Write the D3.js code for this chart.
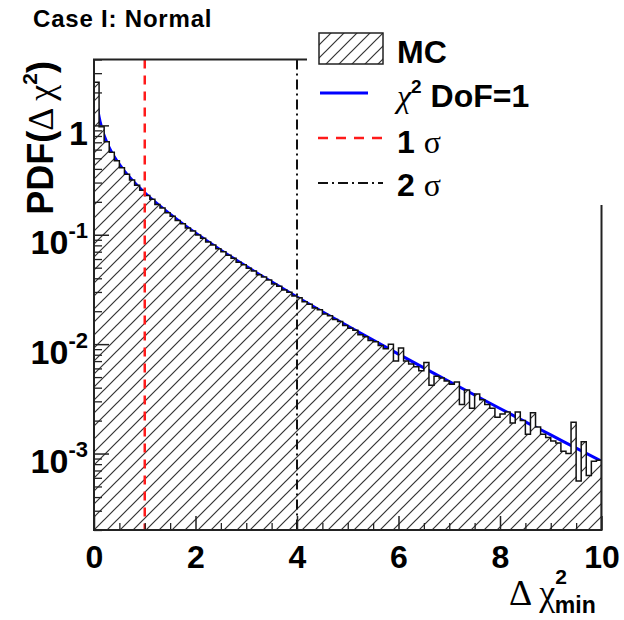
<!DOCTYPE html>
<html>
<head>
<meta charset="utf-8">
<script src="https://cdn.jsdelivr.net/npm/d3@7"></script>
<style>
  html, body { margin: 0; padding: 0; background: #fff; }
  svg { display: block; }
  text { font-family: "Liberation Sans", Arial, Helvetica, sans-serif; }
</style>
</head>
<body>
<svg id="chart" width="624" height="620"></svg>
<script>
// ---------- data ----------
const binEdges = [0, 10];           // histogram range
const binWidth = 0.1;
const mcValues = [
  2.48, 0.971, 0.708, 0.568, 0.476, 0.409, 0.358, 0.317, 0.283, 0.255,
  0.229, 0.211, 0.189, 0.176, 0.159, 0.148, 0.135, 0.126, 0.115, 0.108,
  0.0995, 0.0930, 0.0860, 0.0806, 0.0745, 0.0700, 0.0648, 0.0610, 0.0562, 0.0533,
  0.0494, 0.0467, 0.0432, 0.0410, 0.0385, 0.0355, 0.0338, 0.0313, 0.0298, 0.0276,
  0.0265, 0.0244, 0.0232, 0.0214, 0.0206, 0.0189, 0.0182, 0.0168, 0.0161, 0.0148,
  0.0140, 0.0134, 0.0122, 0.0117, 0.0108, 0.0105, 0.0097, 0.0091, 0.0100, 0.0070,
  0.0092, 0.0070, 0.0066, 0.0062, 0.0057, 0.0068, 0.0042, 0.0051, 0.0049, 0.0046,
  0.0043, 0.0045, 0.0028, 0.0038, 0.0026, 0.0035, 0.0031, 0.0028, 0.0026, 0.00215,
  0.0023, 0.0024, 0.0019, 0.0024, 0.0020, 0.0015, 0.00236, 0.00175, 0.0015, 0.0014,
  0.0013, 0.00125, 0.00105, 0.0010, 0.00193, 0.00056, 0.00128, 0.00063, 0.00085, 0.00087
];
const curveX = [0.06, 0.08, 0.1, 0.15, 0.2, 0.3, 0.4, 0.5, 0.6, 0.75, 1, 1.25, 1.5, 1.75, 2,
                2.5, 3, 3.5, 4, 4.5, 5, 5.5, 6, 6.5, 7, 7.5, 8, 8.5, 9, 9.5, 10];
const curveY = [1.58, 1.355, 1.200, 0.956, 0.807, 0.627, 0.5165, 0.439, 0.3815, 0.3166, 0.242, 0.191, 0.1539, 0.1257, 0.1038,
                0.0723, 0.0514, 0.0371, 0.0270, 0.0198, 0.01465, 0.01088, 0.00811, 0.00607, 0.00455, 0.00343, 0.00258, 0.00195, 0.00148, 0.00112, 0.00085];
const sigmaLines = [1, 4];
const xTickValues = [0, 2, 4, 6, 8, 10];
const xMinorValues = [0.5, 1, 1.5, 2.5, 3, 3.5, 4.5, 5, 5.5, 6.5, 7, 7.5, 8.5, 9, 9.5];
const yMajorValues = [1e-3, 1e-2, 1e-1, 1];
const yMajorLabels = [["10", "-3"], ["10", "-2"], ["10", "-1"], ["1", ""]];
const yMinorValues = [2e-4,3e-4,4e-4,5e-4,6e-4,7e-4,8e-4,9e-4,
                      2e-3,3e-3,4e-3,5e-3,6e-3,7e-3,8e-3,9e-3,
                      2e-2,3e-2,4e-2,5e-2,6e-2,7e-2,8e-2,9e-2,
                      0.2,0.3,0.4,0.5,0.6,0.7,0.8,0.9, 2, 3, 4];
const legendLabels = ["MC", "DoF=1", "1", "2"];

// ---------- layout ----------
const L = 94, R = 601.5, T = 59.5, B = 530;
const svg = d3.select("#chart");
const x = d3.scaleLinear().domain(binEdges).range([L, R]);
const y = d3.scaleLog().domain([2e-4, 4]).range([B, T]);

const defs = svg.append("defs");
const pat = defs.append("pattern").attr("id", "hatch").attr("patternUnits", "userSpaceOnUse")
  .attr("width", 13).attr("height", 13);
pat.append("rect").attr("width", 13).attr("height", 13).attr("fill", "#fff");
pat.append("path").attr("d", "M-3,16 L16,-3 M-3,3 L3,-3 M10,16 L16,10")
  .attr("stroke", "#333").attr("stroke-width", 1.2).attr("fill", "none");
defs.append("clipPath").attr("id", "clip").append("rect")
  .attr("x", L).attr("y", T).attr("width", R - L).attr("height", B - T);

const plot = svg.append("g").attr("clip-path", "url(#clip)");

// chi2 curve (drawn first, histogram covers it)
const line = d3.line().x((d, i) => x(curveX[i])).y(d => y(d)).curve(d3.curveMonotoneX);
plot.append("path").attr("d", line(curveY)).attr("fill", "none")
  .attr("stroke", "#0000ff").attr("stroke-width", 3);

// histogram step path
const pts = [[x(binEdges[0]), y(2e-4) + 5]];
mcValues.forEach((v, i) => {
  pts.push([x(i * binWidth), y(v)]);
  pts.push([x((i + 1) * binWidth), y(v)]);
});
pts.push([x(binEdges[1]), y(2e-4) + 5]);
plot.append("path").attr("d", d3.line()(pts) + "Z")
  .attr("fill", "url(#hatch)").attr("stroke", "#111").attr("stroke-width", 1.5);

// sigma lines
plot.append("line").attr("x1", x(sigmaLines[0])).attr("x2", x(sigmaLines[0]))
  .attr("y1", T).attr("y2", B).attr("stroke", "#ff1a1a").attr("stroke-width", 2.5)
  .attr("stroke-dasharray", "9,7");
plot.append("line").attr("x1", x(sigmaLines[1])).attr("x2", x(sigmaLines[1]))
  .attr("y1", T).attr("y2", B).attr("stroke", "#111").attr("stroke-width", 2)
  .attr("stroke-dasharray", "10,4,2,4");

// ---------- axes ----------
const gx = svg.append("g").attr("transform", `translate(0,${B})`)
  .call(d3.axisBottom(x).tickValues(xTickValues).tickSizeInner(-14).tickSizeOuter(0)
    .tickPadding(8).tickFormat(d3.format("d")));
gx.select(".domain").remove();
gx.selectAll(".tick line").attr("stroke", "#222").attr("stroke-width", 1.5);
gx.selectAll(".tick text").attr("font-size", 32).attr("font-weight", "bold")
  .attr("fill", "#000").attr("dy", "0.93em").attr("font-family", "Liberation Sans, Arial, sans-serif");
const gxm = svg.append("g").attr("transform", `translate(0,${B})`)
  .call(d3.axisBottom(x).tickValues(xMinorValues).tickSizeInner(-7).tickSizeOuter(0).tickFormat(""));
gxm.select(".domain").remove();
gxm.selectAll(".tick line").attr("stroke", "#222").attr("stroke-width", 1.3);

const gy = svg.append("g").attr("transform", `translate(${L},0)`)
  .call(d3.axisLeft(y).tickValues(yMajorValues).tickSizeInner(-15).tickSizeOuter(0)
    .tickPadding(6).tickFormat(""));
gy.select(".domain").remove();
gy.selectAll(".tick line").attr("stroke", "#222").attr("stroke-width", 1.5);
gy.selectAll(".tick").each(function(d, i) {
  const lab = yMajorLabels[i];
  const t = d3.select(this).append("text").attr("x", -6).attr("y", 19)
    .attr("text-anchor", "end").attr("fill", "#000").attr("font-weight", "bold")
    .attr("font-size", 34).attr("font-family", "Liberation Sans, Arial, sans-serif");
  t.append("tspan").text(lab[0]);
  if (lab[1]) t.append("tspan").attr("font-size", 22).attr("dy", -16).text(lab[1]);
});
const gym = svg.append("g").attr("transform", `translate(${L},0)`)
  .call(d3.axisLeft(y).tickValues(yMinorValues).tickSizeInner(-8).tickSizeOuter(0).tickFormat(""));
gym.select(".domain").remove();
gym.selectAll(".tick line").attr("stroke", "#222").attr("stroke-width", 1.3);

// frame
svg.append("rect").attr("x", L).attr("y", T).attr("width", R - L).attr("height", B - T)
  .attr("fill", "none").attr("stroke", "#222").attr("stroke-width", 2);

// ---------- legend ----------
svg.append("rect").attr("x", 307).attr("y", 16).attr("width", 320).attr("height", 189).attr("fill", "#fff");
svg.append("rect").attr("x", 319).attr("y", 33).attr("width", 64).attr("height", 31)
  .attr("fill", "url(#hatch)").attr("stroke", "#222").attr("stroke-width", 1.5);
svg.append("line").attr("x1", 320).attr("x2", 368).attr("y1", 93).attr("y2", 93)
  .attr("stroke", "#0000ff").attr("stroke-width", 3);
svg.append("line").attr("x1", 318).attr("x2", 383).attr("y1", 138).attr("y2", 138)
  .attr("stroke", "#ff1a1a").attr("stroke-width", 2.5).attr("stroke-dasharray", "10,8");
svg.append("line").attr("x1", 318).attr("x2", 383).attr("y1", 183).attr("y2", 183)
  .attr("stroke", "#111").attr("stroke-width", 2).attr("stroke-dasharray", "10,4,2,4");

const legFont = 32;
svg.append("text").attr("x", 397).attr("y", 63).attr("font-size", legFont).attr("font-weight", "bold")
  .text(legendLabels[0]);
const t2 = svg.append("text").attr("x", 397).attr("y", 107).attr("font-size", legFont).attr("font-weight", "bold");
t2.append("tspan").attr("font-family", "Liberation Serif, serif").attr("font-weight", "normal").attr("font-style", "italic").text("χ");
t2.append("tspan").attr("font-size", 19).attr("dy", -14).text("2");
t2.append("tspan").attr("dy", 14).text(" " + legendLabels[1]);
const t3 = svg.append("text").attr("x", 397).attr("y", 153).attr("font-size", legFont).attr("font-weight", "bold");
t3.append("tspan").text(legendLabels[2] + " ");
t3.append("tspan").attr("font-family", "Liberation Serif, serif").attr("font-weight", "normal").text("σ");
const t4 = svg.append("text").attr("x", 397).attr("y", 196).attr("font-size", legFont).attr("font-weight", "bold");
t4.append("tspan").text(legendLabels[3] + " ");
t4.append("tspan").attr("font-family", "Liberation Serif, serif").attr("font-weight", "normal").text("σ");

// ---------- titles ----------
svg.append("text").attr("x", 33).attr("y", 27).attr("font-size", 24).attr("font-weight", "bold")
  .attr("letter-spacing", 0.8).text("Case I: Normal");

const yt = svg.append("text").attr("transform", "translate(53,61) rotate(-90)")
  .attr("text-anchor", "end").attr("font-size", 36).attr("font-weight", "bold");
yt.append("tspan").text("PDF(");
yt.append("tspan").attr("font-family", "Liberation Serif, serif").attr("font-weight", "normal").text("Δ χ");
yt.append("tspan").attr("font-size", 21).attr("dy", -16).text("2");
yt.append("tspan").attr("dy", 16).text(")");

const xt = svg.append("text").attr("x", 509).attr("y", 605).attr("text-anchor", "start")
  .attr("font-size", 36);
xt.append("tspan").attr("font-family", "Liberation Serif, serif").text("Δ χ");
xt.append("tspan").attr("font-size", 21).attr("font-weight", "bold").attr("dy", -21).text("2");
xt.append("tspan").attr("font-size", 23).attr("font-weight", "bold").attr("dx", -12).attr("dy", 29).text("min");
</script>
</body>
</html>
